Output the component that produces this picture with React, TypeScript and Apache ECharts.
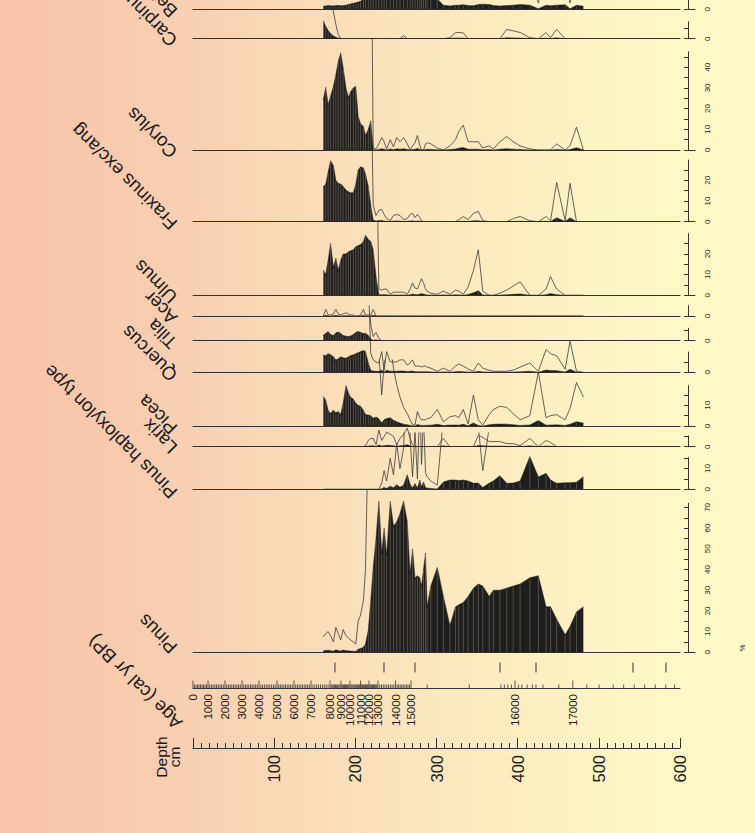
import React, { useEffect, useRef } from 'react';
import * as echarts from 'echarts';

// ---------- DATA ----------
const depths = [160.5, 163.5, 166.5, 169.5, 173, 176, 179, 182, 185, 188.5, 191.5, 194, 197.5, 200.5, 203.5, 206.5, 210, 212.5, 216, 219, 222, 225.5, 229, 232.5, 235.5, 238.5, 243, 247, 251, 255, 259.5, 264, 267.5, 270.5, 273.5, 276.5, 279.5, 281.5, 284, 286.5, 288.5, 293, 301, 308.5, 316.5, 323.5, 327.5, 333, 339, 345.5, 351.5, 357, 365, 370, 378, 386.5, 394.5, 403, 415, 425.5, 435, 440.5, 448, 458.5, 464.5, 472.5, 481];

const betula = [1.5,1.6,1.8,1.7,1.6,1.8,1.9,1.7,1.8,2.0, 2.3,2.6,2.9,3.2,3.5,3.9,5,7,9,10, 12,10,12,11,9,12,10,11,9,10, 8,9,8,9,10,8,9,7,8,9, 8,7,5,2.0,1.6,1.9,2.0,2.2,1.8,1.7, 2.3,2.5,2.3,1.8,1.6,1.8,2.0,2.3,2.0,0.3, 2.0,1.7,2.0,2.2,0.3,2.0,1.5];
const carpinus = [8.7,6.0,4.0,2.5,1.3,0.7,0.2,0,0,0, 0,0,0,0,0,0,0,0,0,0, 0,0,0,0,0,0,0,0,0,0, 0.15,0,0,0,0,0,0,0,0,0, 0,0,0,0,0.05,0.29,0.3,0.28,0,0, 0,0,0,0,0,0.45,0.38,0.3,0.05,0, 0.3,0.05,0.45,0,0,0,0];
const corylus = [24.3,30.3,21.9,26,30.8,36.4,42.8,47,39.6,30, 25.4,28,30,30.8,16.3,12.6,11.4,7,10,14, 0.1,0.05,0.3,0.6,0.4,0.05,0.5,0.15,0.6,0.4, 0.6,0.3,0,0.2,0.35,0.7,0.2,0,0,0.3, 0.35,0.3,0.1,0,0.2,0.5,0.9,1.2,0.4,0.4, 0.4,0.1,0.2,0.05,0.4,0.65,0.4,0.2,0.05,0, 0,0,0.3,0,0.2,1.1,0];
const fraxinus = [17,18,24,29.5,27,20,18.5,18.2,17,15.3, 14.5,14,14,18,25,26.5,26,23,17,8, 0.8,0.3,0.55,0.6,0.35,0.15,0.05,0.3,0.35,0.3, 0.1,0.15,0.35,0.4,0.2,0.35,0.2,0.05,0,0, 0,0,0,0,0,0,0.1,0.25,0.1,0.4, 0.5,0.05,0,0,0,0,0.15,0.25,0.05,0, 0.25,0.05,1.9,0.05,1.85,0,0];
const ulmus = [12.2,10,17,25,13.5,17.9,12,17,20,20, 21,21.5,22,23.5,24,24.5,26,29,27,26, 22,9,0.3,0.25,0.3,0.3,0.05,0.15,0.15,0.15, 0.15,0.05,0.3,0.6,0.35,0.3,0.6,0.8,0.6,0.3, 0.2,0.1,0.05,0.2,0.05,0.25,0.2,0.05,0.4,1.2, 2.2,0.2,0,0,0.1,0.25,0.45,0.65,0,0, 0.3,0.9,0.3,0,0,0,0];
const acer = [0,0.32,0.05,0.05,0.1,0.32,0.1,0.05,0.1,0.16, 0.1,0.05,0.05,0,0,0.05,0.32,0.05,0.05,0.05, 0.32,0,0,0,0,0,0,0,0,0, 0,0,0,0,0,0,0,0,0,0, 0,0,0,0,0,0,0,0,0,0, 0,0,0,0,0,0,0,0,0,0, 0,0,0,0,0,0,0];
const tilia = [2.7,3.5,4.5,3.0,2.5,3.8,4.2,3.5,2.5,2.2, 2.0,2.3,3.0,4.0,4.5,4.0,3.5,3.6,2.5,0.8, 0.2,0.4,0.1,0,0,0,0,0,0,0, 0,0,0,0,0,0,0,0,0,0, 0,0,0,0,0,0,0,0,0,0, 0,0,0,0,0,0,0,0,0,0, 0,0,0,0,0,0,0];
const quercus = [8.4,8.0,9.0,8.5,7.5,6.0,6.5,7.5,7.0,6.8, 7.5,8.0,8.5,9.0,9.5,10,10.5,10,4.5,0.9, 0.6,0.5,0.45,1.0,0.1,1.0,0.5,0.5,0.5,0.6, 0.6,0.35,0.45,0.6,0.3,0.3,0.3,0.25,0.3,0.3, 0.25,0.2,0.05,0.2,0.05,0.3,0.4,0.3,0.15,0.05, 0.45,0.2,0.1,0.05,0.05,0.05,0.1,0.25,0.45,0.05, 1.1,0.9,0.8,0.15,1.5,0.05,0];
const picea = [14.2,12.5,7.5,6.0,7.7,6.4,7.0,5.5,11,19.5, 16,14,13,11,10,9.5,7.5,5.5,5.3,5.0, 3.7,4.3,3.5,1.5,3.0,3.6,4.0,2.8,2.0,1.4, 0.9,0.6,0.3,0.05,0.05,0.7,0.4,0.3,0.3,0.3, 0.35,0.4,0.8,0.2,0.45,0.5,0.4,0.8,0.1,1.5, 0.3,0.05,0.55,0.8,0.95,0.9,0.6,0.3,0.5,2.6, 0.4,0.5,0.55,0.3,0.85,2.1,1.4];
const larix = [0,0,0,0,0,0,0,0,0,0, 0,0,0,0,0,0,0,0.05,0.3,0.4, 0.4,0.1,0.8,0.3,0.5,0.7,0.6,0.5,0.1,0.4, 0.6,0.9,0.4,0.1,0,0,0,0,0,0, 0,0,0,0.4,0,0,0,0,0,0, 0.55,0.45,0.25,0.25,0.25,0.15,0.15,0.05,0.4,0, 0.3,0.2,0,0,0,0,0];
const pinusHap = [0,0,0,0,0,0,0,0,0,0, 0,0,0,0,0,0,0,0,0,0, 0,0,0,0.3,0.9,0.4,1.5,0.7,2.2,1.0, 2.0,7.0,2.5,0.6,2.8,0.5,4.5,1.2,3.5,0.8, 0.6,0.4,0.2,3.5,4.5,4.5,4.2,4.5,4.0,2.9, 3.0,0.9,3.0,4.0,6.6,2.9,3.0,4.0,15.8,6.0, 7.7,4.5,2.9,3.2,3.2,3.4,6.1];
const pinus = [0.75,0.9,1.0,0.8,0.5,1.2,0.9,0.6,1.1,0.8, 0.7,0.6,0.5,0.4,1.5,1.8,2.5,4,10.8,25, 41,55,73,48,60,47,73,61,63,67, 73,63,38,50,36,37,36,32,40,48, 22,32,41,27,13,22,23,24,27,31, 33,32,27,30,30,31,32,33,36,37, 22,22,16,8.5,12.5,19.5,22];

const ageLabels = [0, 1000, 2000, 3000, 4000, 5000, 6000, 7000, 8000, 9000, 10000, 11000, 12000, 13000, 14000, 15000, 16000, 17000];
const ageLabelDepths = [0, 18.5, 39.4, 60.4, 81.3, 103.5, 124.4, 145.4, 168.8, 182.3, 193.4, 206.4, 216.8, 227.9, 249.6, 268.6, 396.7, 468];
const ageExtraTickDepths = [288.5, 340.4, 379.3, 383.6, 387.9, 392.3, 400.9, 405.2, 411.7, 418.2, 422.6, 431.2, 450.7, 485.2, 500.3, 517.7, 530.6, 543.6, 556.5, 569.5, 582.5, 593.3];
const dateDepths = [174.9, 235.3, 273.5, 378.2, 422.6, 542.1, 582.7];

const EXAG = 10;

// ---------- LAYOUT ----------
const FONT = "'Liberation Sans', Arial, Helvetica, sans-serif";
const PX = 2.07; // pixels per percent
const LEFT = 193;
const WIDTH = 487;
const INK = '#1e1e1e';
const LABEL_SIZE = 18.5;

const panels = [
  { name: 'Betula', vals: betula, base: 9.3, clip: -120, axisMax: 20, labelDy: 5 },
  { name: 'Carpinus', vals: carpinus, base: 38.7, clip: 9.3, axisMax: 8.2, labelDy: 5 },
  { name: 'Corylus', vals: corylus, base: 150, clip: 38.7, axisMax: 47.5, labelDy: 5 },
  { name: 'Fraxinus exc/ang', vals: fraxinus, base: 221.7, clip: 150, axisMax: 29.8, labelDy: 5 },
  { name: 'Ulmus', vals: ulmus, base: 295.3, clip: 221.7, axisMax: 29.8, labelDy: 5 },
  { name: 'Acer', vals: acer, base: 316, clip: 295.3, axisMax: 5, labelDy: 5 },
  { name: 'Tilia', vals: tilia, base: 340.7, clip: 316, axisMax: 6, labelDy: 5 },
  { name: 'Quercus', vals: quercus, base: 372.3, clip: 306, axisMax: 9.8, labelDy: 6 },
  { name: 'Picea', vals: picea, base: 426, clip: 360, axisMax: 19.5, labelDy: 5 },
  { name: 'Larix', vals: larix, base: 446.7, clip: 426, axisMax: 5.2, labelDy: 4 },
  { name: 'Pinus haploxylon type', vals: pinusHap, base: 489.3, clip: 433, axisMax: 15.3, labelDy: 6 },
  { name: 'Pinus', vals: pinus, base: 652.3, clip: 489.3, axisMax: 72, labelDy: -2 },
];

function ageToDepth(a: number): number {
  for (let i = 0; i < 15; i++) {
    const a0 = ageLabels[i], a1 = ageLabels[i + 1];
    if (a >= a0 && a <= a1) {
      const t = (a - a0) / (a1 - a0);
      return ageLabelDepths[i] + t * (ageLabelDepths[i + 1] - ageLabelDepths[i]);
    }
  }
  return ageLabelDepths[15];
}

function textStyle(text: string, size: number, align: string) {
  return {
    text, fontSize: size, fontFamily: FONT, fill: '#1a1a1a',
    align, verticalAlign: 'middle', textAlign: align, textVerticalAlign: 'middle',
  };
}

function buildOption() {
  const grid: any[] = [];
  const xAxis: any[] = [];
  const yAxis: any[] = [];
  const series: any[] = [];
  const graphic: any[] = [];
  const axisLineStyle = { color: '#333', width: 1 };

  panels.forEach((p) => {
    const gi = grid.length;
    grid.push({ left: LEFT, width: WIDTH, top: p.clip, height: p.base - p.clip, containLabel: false, outerBoundsMode: 'none' });
    xAxis.push({
      type: 'value', gridIndex: gi, min: 0, max: 600,
      axisLine: { show: true, onZero: false, lineStyle: axisLineStyle },
      axisTick: { show: false }, axisLabel: { show: false }, splitLine: { show: false },
    });
    yAxis.push({ type: 'value', gridIndex: gi, min: 0, max: (p.base - p.clip) / PX, show: false, splitLine: { show: false } });

    series.push({
      type: 'line', xAxisIndex: gi, yAxisIndex: gi, silent: true, z: 2,
      data: depths.map((d, j) => [d, p.vals[j] * EXAG]),
      symbol: 'none', showSymbol: false, clip: true,
      lineStyle: { color: '#3c3c3c', width: 0.8 },
    });
    series.push({
      type: 'line', xAxisIndex: gi, yAxisIndex: gi, silent: true, z: 3,
      data: depths.map((d, j) => [d, p.vals[j]]),
      symbol: 'none', showSymbol: false, clip: true,
      lineStyle: { color: INK, width: 0.5 },
      areaStyle: { color: INK, opacity: 1 },
    });
    series.push({
      type: 'custom', xAxisIndex: gi, yAxisIndex: gi, silent: true, z: 4,
      data: depths.map((d, j) => [d, p.vals[j]]),
      renderItem: (params: any, api: any) => {
        const v = api.value(1);
        if (v < 1.5) return null;
        const a = api.coord([api.value(0), 0]);
        const b = api.coord([api.value(0), v]);
        return { type: 'line', shape: { x1: a[0], y1: a[1] - 0.5, x2: b[0], y2: b[1] + 1 }, style: { stroke: 'rgba(235,212,170,0.45)', lineWidth: 0.6 } };
      },
    });

    // right-hand % axis
    const ti = grid.length;
    grid.push({ left: 688, width: 7, top: p.base - p.axisMax * PX, height: p.axisMax * PX, containLabel: false, outerBoundsMode: 'none' });
    xAxis.push({
      type: 'value', gridIndex: ti, min: 0, max: 1,
      axisLine: { show: true, onZero: false, lineStyle: axisLineStyle },
      axisTick: { show: false }, axisLabel: { show: false }, splitLine: { show: false },
    });
    yAxis.push({
      type: 'value', gridIndex: ti, position: 'right', min: 0, max: p.axisMax, interval: 5,
      axisLine: { show: true, lineStyle: axisLineStyle },
      axisTick: { show: true, inside: true, length: 4, lineStyle: axisLineStyle },
      axisLabel: {
        show: true, rotate: 90, fontSize: 8, margin: 8, color: '#222', fontFamily: FONT,
        showMaxLabel: false,
        formatter: (v: number) => (Math.abs(v % 10) < 1e-6 ? String(v) : ''),
      },
      splitLine: { show: false },
    });

    graphic.push({
      type: 'text', x: 174, y: p.base + p.labelDy, rotation: (3 * Math.PI) / 4, silent: true,
      style: textStyle(p.name, LABEL_SIZE, 'left'),
    });
  });

  // depth axis
  const di = grid.length;
  grid.push({ left: LEFT, width: WIDTH, top: 700, height: 48, containLabel: false, outerBoundsMode: 'none' });
  xAxis.push({
    type: 'value', gridIndex: di, min: 0, max: 600, interval: 100,
    axisLine: { show: true, onZero: false, lineStyle: axisLineStyle },
    axisTick: { show: true, inside: true, length: 10, lineStyle: axisLineStyle },
    minorTick: { show: true, splitNumber: 10, length: 5, lineStyle: { color: '#333', width: 1 } },
    axisLabel: { show: true, rotate: 90, fontSize: 16.5, margin: 7, color: '#1a1a1a', fontFamily: FONT, formatter: (v: number) => (v === 0 ? '' : String(v)) },
    splitLine: { show: false },
  });
  yAxis.push({ type: 'value', gridIndex: di, min: 0, max: 1, show: false });

  // age axis
  const ai = grid.length;
  grid.push({ left: LEFT, width: WIDTH, top: 655, height: 33.5, containLabel: false, outerBoundsMode: 'none' });
  xAxis.push({
    type: 'value', gridIndex: ai, min: 0, max: 600,
    axisLine: { show: true, onZero: false, lineStyle: axisLineStyle },
    axisTick: { show: false }, axisLabel: { show: false }, splitLine: { show: false },
  });
  yAxis.push({ type: 'value', gridIndex: ai, min: 0, max: 1, show: false });

  const ageTicks: number[][] = [];
  for (let a = 0; a <= 15000; a += 100) {
    ageTicks.push([ageToDepth(a), a % 1000 === 0 ? 8 : 4]);
  }
  ageExtraTickDepths.forEach((d) => ageTicks.push([d, 4]));
  ageTicks.push([ageLabelDepths[16], 8]);
  ageTicks.push([ageLabelDepths[17], 8]);

  series.push({
    type: 'custom', xAxisIndex: ai, yAxisIndex: ai, silent: true, z: 5,
    data: ageTicks,
    renderItem: (params: any, api: any) => {
      const p = api.coord([api.value(0), 0]);
      const len = api.value(1);
      return { type: 'line', shape: { x1: p[0], y1: p[1], x2: p[0], y2: p[1] - len }, style: { stroke: '#333', lineWidth: 0.8 } };
    },
  });
  series.push({
    type: 'custom', xAxisIndex: ai, yAxisIndex: ai, silent: true, z: 5,
    data: ageLabels.map((a, i) => [ageLabelDepths[i], a]),
    renderItem: (params: any, api: any) => {
      const p = api.coord([api.value(0), 0]);
      return {
        type: 'text', x: p[0], y: p[1] + 5.5, rotation: Math.PI / 2,
        style: textStyle(String(api.value(1)), 11.5, 'right'),
      };
    },
  });
  series.push({
    type: 'custom', xAxisIndex: ai, yAxisIndex: ai, silent: true, z: 5,
    data: dateDepths.map((d) => [d, 0]),
    renderItem: (params: any, api: any) => {
      const p = api.coord([api.value(0), 0]);
      return { type: 'line', shape: { x1: p[0], y1: p[1] - 26, x2: p[0], y2: p[1] - 16 }, style: { stroke: '#333', lineWidth: 1 } };
    },
  });

  graphic.push({ type: 'text', x: 179, y: 726, rotation: (3 * Math.PI) / 4, silent: true, style: textStyle('Age (cal yr BP)', LABEL_SIZE, 'left') });
  graphic.push({ type: 'text', x: 161, y: 757, rotation: Math.PI / 2, silent: true, style: textStyle('Depth', 15.5, 'center') });
  graphic.push({ type: 'text', x: 174, y: 757, rotation: Math.PI / 2, silent: true, style: textStyle('cm', 15.5, 'center') });
  graphic.push({ type: 'text', x: 742, y: 648, rotation: Math.PI / 2, silent: true, style: textStyle('%', 8, 'center') });

  return {
    animation: false,
    backgroundColor: 'transparent',
    textStyle: { fontFamily: FONT },
    grid, xAxis, yAxis, series, graphic,
  };
}

export default function App() {
  const ref = useRef<HTMLDivElement>(null);
  useEffect(() => {
    if (!ref.current) return;
    const chart = echarts.init(ref.current, undefined, { renderer: 'svg', width: 755, height: 833 });
    chart.setOption(buildOption() as any);
    return () => chart.dispose();
  }, []);
  return (
    <div
      ref={ref}
      style={{
        position: 'absolute', left: 0, top: 0, width: 755, height: 833, overflow: 'hidden',
        background: 'linear-gradient(to right, #f7c2a9 0%, #f9d3b3 30%, #fbe6bd 55%, #fdf4c4 80%, #fefac8 100%)',
      }}
    />
  );
}
